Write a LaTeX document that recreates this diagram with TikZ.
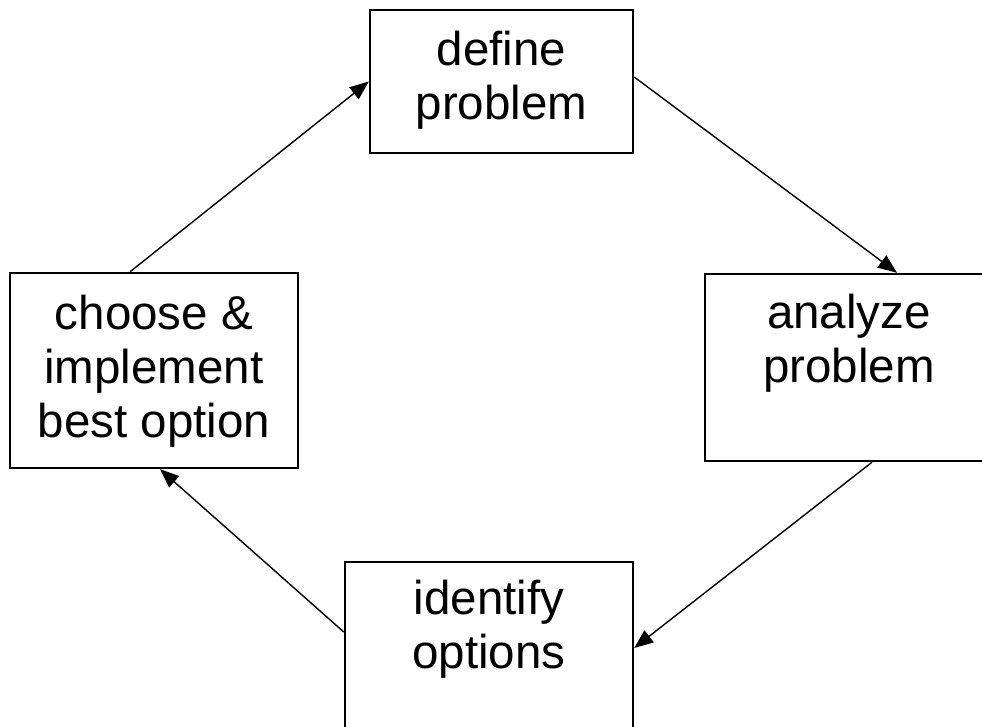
\documentclass[tikz,border=0pt]{standalone}
\usepackage{fontspec}
\setmainfont{Liberation Sans}
\usetikzlibrary{arrows.meta}
\begin{document}
\begin{tikzpicture}[x=1pt,y=-1pt,
  box/.style={draw, line width=2.4pt, rectangle, inner sep=0pt},
  label/.style={align=center, anchor=base, inner sep=0pt, font=\fontsize{47.5}{54}\selectfont},
  conn/.style={line width=1.4pt, -{Triangle[length=19pt,width=15pt]}}]
\useasboundingbox (0,0) rectangle (982,727);
\clip (0,0) rectangle (982,727);
\fill[white] (0,0) rectangle (982,727);
% boxes
\node[box, minimum width=263pt, minimum height=143pt] (def) at (501.5,81.5) {};
\node[box, minimum width=288pt, minimum height=187pt] (ana) at (849,367.5) {};
\node[box, minimum width=288pt, minimum height=187pt] (ide) at (489,655.5) {};
\node[box, minimum width=288pt, minimum height=195pt] (cho) at (154,370.5) {};
% texts (anchor base = baseline of last line)
\node[label] (defT) at (501.5,120) {define\\problem};
\node[label] (anaT) at (849,382) {analyze\\problem};
\node[label] (ideT) at (489,668) {identify\\options};
\node[label] (choT) at (154,437) {choose \&\\implement\\best option};
% connectors
\draw[conn] ([xshift=-24pt]cho.north) -- (def.west);
\draw[conn] ([yshift=4.5pt]def.east) -- ([xshift=48pt]ana.north);
\draw[conn] ([xshift=23pt]ana.south) -- ([yshift=7.5pt]ide.east);
\draw[conn] ([yshift=23.5pt]ide.west) -- ([xshift=6pt]cho.south);
\end{tikzpicture}
\end{document}
